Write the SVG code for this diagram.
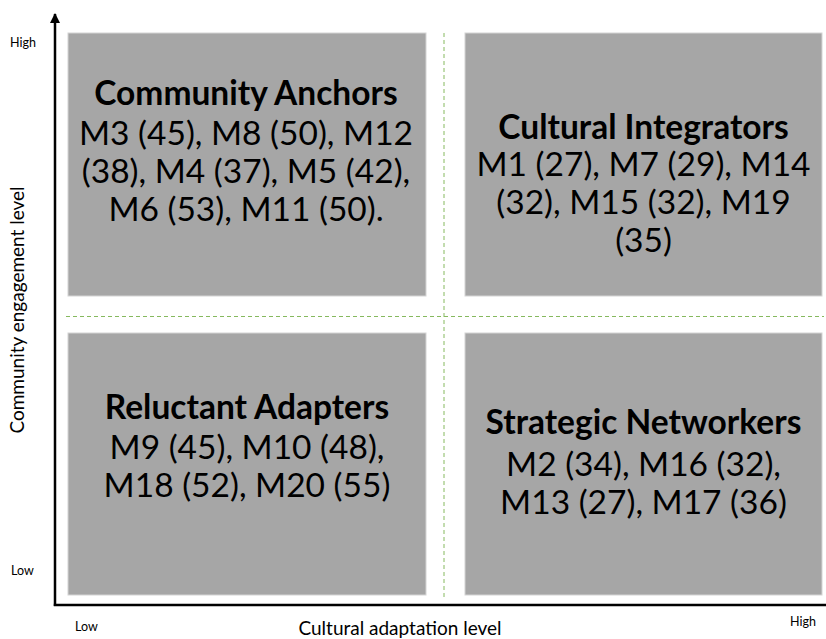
<svg xmlns="http://www.w3.org/2000/svg" width="826" height="639" viewBox="0 0 826 639">
  <style>
    .quad { fill: #a6a6a6; stroke: #d4d4d4; stroke-width: 1; }
    .title { font-family: Lato, "Open Sans", sans-serif; font-weight: bold; font-size: 33.5px; fill: #000; text-anchor: middle; }
    .body { font-family: Lato, "Open Sans", sans-serif; font-size: 33.5px; fill: #000; text-anchor: middle; }
    .tick { font-family: Lato, "Open Sans", sans-serif; font-size: 12.5px; fill: #000; }
    .axis-label { font-family: Lato, "Open Sans", sans-serif; font-size: 19px; fill: #000; text-anchor: middle; }
    .divider { stroke: #86b95e; stroke-width: 1; stroke-dasharray: 4 3; fill: none; }
    .axis { stroke: #000; stroke-width: 2.5; fill: none; }
  </style>
  <defs>
    <marker id="arrow" viewBox="0 0 10 10" refX="9" refY="5" markerWidth="4" markerHeight="4" orient="auto" markerUnits="strokeWidth">
      <path d="M0,0 L10,5 L0,10 z" fill="#000"/>
    </marker>
  </defs>
  <rect width="826" height="639" fill="#fff"/>

  <!-- quadrant dividers -->
  <g id="dividers">
    <line class="divider" x1="444" y1="33" x2="444" y2="600"/>
    <line class="divider" x1="66" y1="316.5" x2="824" y2="316.5"/>
  </g>

  <!-- quadrant: high engagement, low adaptation -->
  <g id="community-anchors">
    <rect class="quad" x="68" y="33" width="358" height="263"/>
    <text class="title" x="246" y="105">Community Anchors</text>
    <text class="body" x="246" y="145">M3 (45), M8 (50), M12</text>
    <text class="body" x="246" y="183">(38), M4 (37), M5 (42),</text>
    <text class="body" x="246" y="221">M6 (53), M11 (50).</text>
  </g>

  <!-- quadrant: high engagement, high adaptation -->
  <g id="cultural-integrators">
    <rect class="quad" x="465" y="33" width="357" height="263"/>
    <text class="title" x="643.5" y="139">Cultural Integrators</text>
    <text class="body" x="643.5" y="176">M1 (27), M7 (29), M14</text>
    <text class="body" x="643.5" y="214">(32), M15 (32), M19</text>
    <text class="body" x="643.5" y="252">(35)</text>
  </g>

  <!-- quadrant: low engagement, low adaptation -->
  <g id="reluctant-adapters">
    <rect class="quad" x="68" y="333" width="358" height="262"/>
    <text class="title" x="247" y="419">Reluctant Adapters</text>
    <text class="body" x="247" y="459">M9 (45), M10 (48),</text>
    <text class="body" x="247" y="497">M18 (52), M20 (55)</text>
  </g>

  <!-- quadrant: low engagement, high adaptation -->
  <g id="strategic-networkers">
    <rect class="quad" x="465" y="333" width="357" height="262"/>
    <text class="title" x="643.5" y="434">Strategic Networkers</text>
    <text class="body" x="643.5" y="476">M2 (34), M16 (32),</text>
    <text class="body" x="643.5" y="514">M13 (27), M17 (36)</text>
  </g>

  <!-- axes -->
  <g id="connectors">
    <line class="axis" x1="55" y1="606" x2="55" y2="14" marker-end="url(#arrow)"/>
    <line class="axis" x1="53.8" y1="605" x2="826" y2="605"/>
  </g>

  <g id="axis-labels">
    <text class="tick" x="10" y="47">High</text>
    <text class="tick" x="11" y="575">Low</text>
    <text class="tick" x="75" y="631">Low</text>
    <text class="tick" x="790" y="626">High</text>
    <text class="axis-label" x="400" y="635">Cultural adaptation level</text>
    <text class="axis-label" transform="translate(24 310) rotate(-90)">Community engagement level</text>
  </g>
</svg>
